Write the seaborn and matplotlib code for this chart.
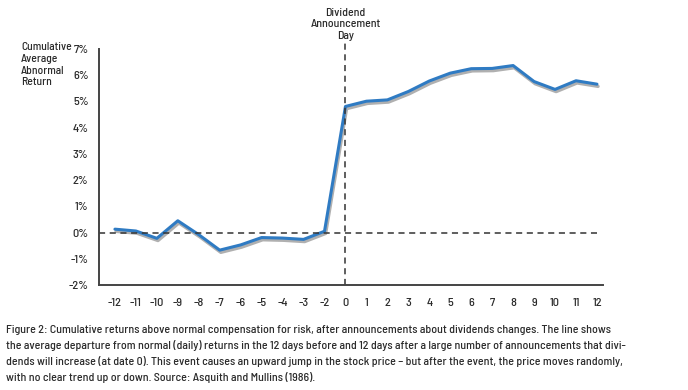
import numpy as np
import pandas as pd
import matplotlib
matplotlib.use('Agg')
import matplotlib.pyplot as plt
import matplotlib.transforms as mtransforms
import seaborn as sns

# event days (note: the chart has no -1 day)
days = ['-12', '-11', '-10', '-9', '-8', '-7', '-6', '-5', '-4', '-3', '-2',
        '0', '1', '2', '3', '4', '5', '6', '7', '8', '9', '10', '11', '12']
# cumulative average abnormal return, %
car = [0.13, 0.06, -0.22, 0.45, -0.08, -0.67, -0.47, -0.19, -0.21, -0.26, 0.05,
       4.81, 5.01, 5.06, 5.38, 5.78, 6.08, 6.25, 6.26, 6.37, 5.76, 5.46, 5.79, 5.66]
yticks = [-2, -1, 0, 1, 2, 3, 4, 5, 6, 7]

df = pd.DataFrame({'pos': np.arange(len(days)), 'car': car})

sns.set_style('white')
plt.rcParams['font.family'] = ['Barlow Semi Condensed', 'DejaVu Sans']
plt.rcParams['font.weight'] = 500
txt = '#2b2b2b'

fig = plt.figure(figsize=(6.88, 3.9), dpi=100)
ax = fig.add_axes([0.1439, 0.2692, 0.7326, 0.6051])

# grey drop shadow under the line
shadow = mtransforms.offset_copy(ax.transData, fig=fig, x=0.8, y=-1.6, units='points')
ax.plot(df['pos'], df['car'], color='#b0b0b0', lw=2.4, transform=shadow, solid_joinstyle='round')
sns.lineplot(data=df, x='pos', y='car', ax=ax, color='#2f7bc3', lw=2.2)

zero_pos = days.index('0')
ax.set_xlim(-0.76, 23.29)
ax.set_ylim(-2, 7)
ax.plot([-0.76, len(days) - 1], [0, 0], ls=(0, (4, 3)), color='#333333', lw=1.1)
ax.axvline(zero_pos, ymin=0, ymax=1.03, ls=(0, (4, 3)), color='#333333', lw=1.1, clip_on=False)

ax.set_xticks(df['pos'])
ax.set_xticklabels(days)
ax.set_yticks(yticks)
ax.set_yticklabels([f'{v}%' for v in yticks])
ax.set_xlabel('')
ax.set_ylabel('')

for s in ['top', 'right']:
    ax.spines[s].set_visible(False)
for s in ['left', 'bottom']:
    ax.spines[s].set_color('#444444')
    ax.spines[s].set_linewidth(1.4)
ax.tick_params(direction='inout', length=7, width=1.2, color='#444444',
               labelsize=8.8, labelcolor=txt, pad=4)
ax.tick_params(axis='x', pad=6)

ax.text(zero_pos, 1.035, 'Dividend\nAnnouncement\nDay', transform=ax.get_xaxis_transform(),
        ha='center', va='bottom', fontsize=8.5, color=txt, linespacing=1.2)
fig.text(21 / 688, 1 - 42 / 390, 'Cumulative\nAverage\nAbnormal\nReturn',
         ha='left', va='top', fontsize=8.3, color=txt, linespacing=1.22)

caption = ('Figure 2: Cumulative returns above normal compensation for risk, after announcements about dividends changes. The line shows\n'
           'the average departure from normal (daily) returns in the 12 days before and 12 days after a large number of announcements that divi-\n'
           'dends will increase (at date 0). This event causes an upward jump in the stock price \u2013 but after the event, the price moves randomly,\n'
           'with no clear trend up or down. Source: Asquith and Mullins (1986).')
fig.text(6 / 688, 1 - 325 / 390, caption, ha='left', va='top', fontsize=8.6,
         color=txt, linespacing=1.55)

fig.savefig('out.png', dpi=100)
